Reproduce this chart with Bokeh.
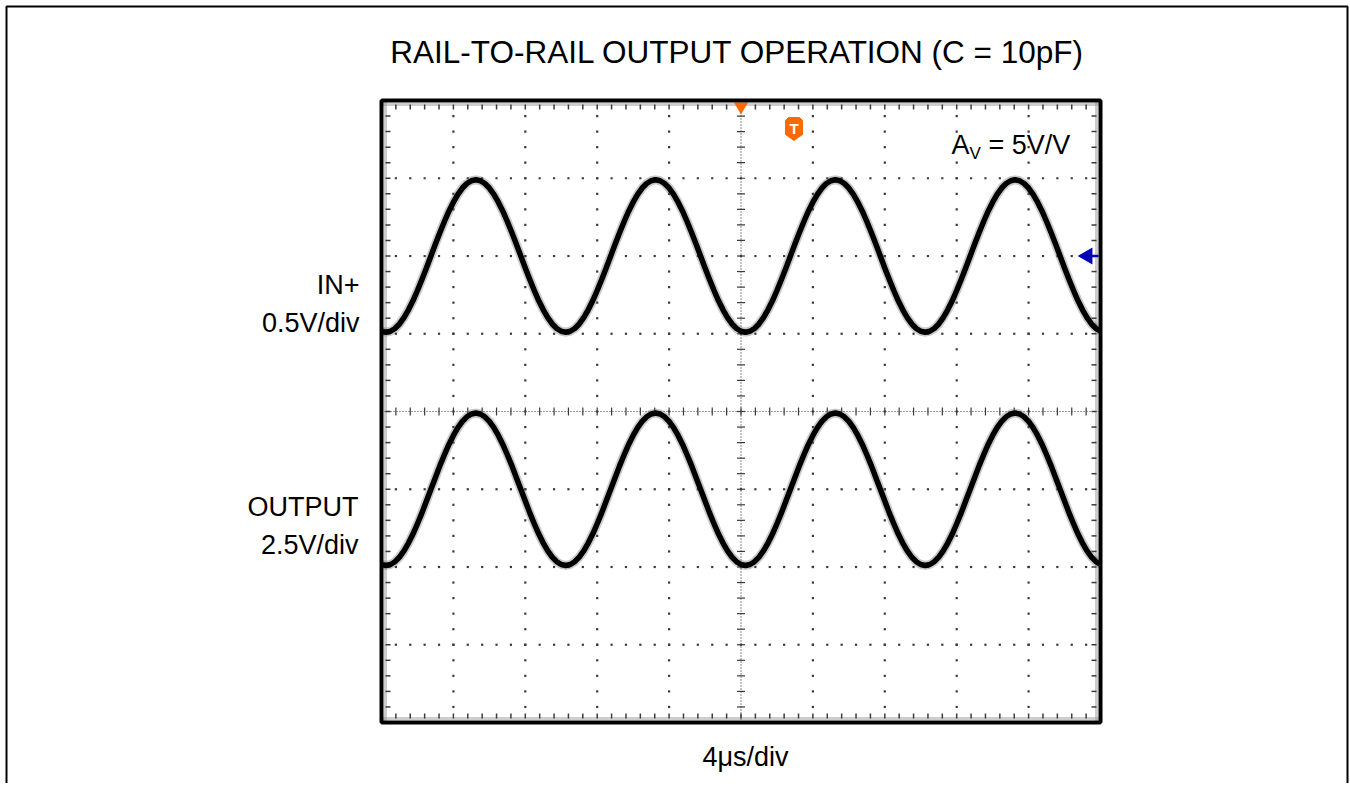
from bokeh.plotting import figure
from bokeh.models import Label, Range1d
from bokeh.embed import file_html
from bokeh.resources import INLINE

# ---------------- data ----------------
TITLE = "RAIL-TO-RAIL OUTPUT OPERATION (C = 10pF)"
CH1_NAME, CH1_SCALE_TXT = "IN+", "0.5V/div"
CH2_NAME, CH2_SCALE_TXT = "OUTPUT", "2.5V/div"
TIME_TXT = "4\u03bcs/div"
GAIN_MAIN, GAIN_SUB, GAIN_REST = "A", "V", "= 5V/V"

US_PER_DIV = 4.0          # horizontal scale
IN_V_PER_DIV = 0.5        # channel 1 scale
OUT_V_PER_DIV = 2.5       # channel 2 scale
N_XDIV, N_YDIV = 10, 8

# sample times (µs) across the 10 divisions
time_us = [i * 0.25 for i in range(161)]

# IN+ (V, relative to channel-1 marker)
in_plus_v = [
    -0.484,
    -0.490, -0.484, -0.466, -0.437, -0.396, -0.346, -0.288, -0.222, -0.151, -0.077,
    0.000, 0.077, 0.151, 0.222, 0.288, 0.346, 0.396, 0.437, 0.466, 0.484,
    0.490, 0.484, 0.466, 0.437, 0.396, 0.346, 0.288, 0.222, 0.151, 0.077,
    0.000, -0.077, -0.151, -0.222, -0.288, -0.346, -0.396, -0.437, -0.466, -0.484,
    -0.490, -0.484, -0.466, -0.437, -0.396, -0.346, -0.288, -0.222, -0.151, -0.077,
    0.000, 0.077, 0.151, 0.222, 0.288, 0.346, 0.396, 0.437, 0.466, 0.484,
    0.490, 0.484, 0.466, 0.437, 0.396, 0.346, 0.288, 0.222, 0.151, 0.077,
    0.000, -0.077, -0.151, -0.222, -0.288, -0.346, -0.396, -0.437, -0.466, -0.484,
    -0.490, -0.484, -0.466, -0.437, -0.396, -0.346, -0.288, -0.222, -0.151, -0.077,
    0.000, 0.077, 0.151, 0.222, 0.288, 0.346, 0.396, 0.437, 0.466, 0.484,
    0.490, 0.484, 0.466, 0.437, 0.396, 0.346, 0.288, 0.222, 0.151, 0.077,
    0.000, -0.077, -0.151, -0.222, -0.288, -0.346, -0.396, -0.437, -0.466, -0.484,
    -0.490, -0.484, -0.466, -0.437, -0.396, -0.346, -0.288, -0.222, -0.151, -0.077,
    0.000, 0.077, 0.151, 0.222, 0.288, 0.346, 0.396, 0.437, 0.466, 0.484,
    0.490, 0.484, 0.466, 0.437, 0.396, 0.346, 0.288, 0.222, 0.151, 0.077,
    0.000, -0.077, -0.151, -0.222, -0.288, -0.346, -0.396, -0.437, -0.466, -0.484,
]

# OUTPUT (V, 0 V at channel-2 reference)
output_v = [
    0.08,
    0.05, 0.08, 0.17, 0.32, 0.52, 0.77, 1.06, 1.39, 1.74, 2.12,
    2.50, 2.88, 3.26, 3.61, 3.94, 4.23, 4.48, 4.68, 4.83, 4.92,
    4.95, 4.92, 4.83, 4.68, 4.48, 4.23, 3.94, 3.61, 3.26, 2.88,
    2.50, 2.12, 1.74, 1.39, 1.06, 0.77, 0.52, 0.32, 0.17, 0.08,
    0.05, 0.08, 0.17, 0.32, 0.52, 0.77, 1.06, 1.39, 1.74, 2.12,
    2.50, 2.88, 3.26, 3.61, 3.94, 4.23, 4.48, 4.68, 4.83, 4.92,
    4.95, 4.92, 4.83, 4.68, 4.48, 4.23, 3.94, 3.61, 3.26, 2.88,
    2.50, 2.12, 1.74, 1.39, 1.06, 0.77, 0.52, 0.32, 0.17, 0.08,
    0.05, 0.08, 0.17, 0.32, 0.52, 0.77, 1.06, 1.39, 1.74, 2.12,
    2.50, 2.88, 3.26, 3.61, 3.94, 4.23, 4.48, 4.68, 4.83, 4.92,
    4.95, 4.92, 4.83, 4.68, 4.48, 4.23, 3.94, 3.61, 3.26, 2.88,
    2.50, 2.12, 1.74, 1.39, 1.06, 0.77, 0.52, 0.32, 0.17, 0.08,
    0.05, 0.08, 0.17, 0.32, 0.52, 0.77, 1.06, 1.39, 1.74, 2.12,
    2.50, 2.88, 3.26, 3.61, 3.94, 4.23, 4.48, 4.68, 4.83, 4.92,
    4.95, 4.92, 4.83, 4.68, 4.48, 4.23, 3.94, 3.61, 3.26, 2.88,
    2.50, 2.12, 1.74, 1.39, 1.06, 0.77, 0.52, 0.32, 0.17, 0.08,
]

CH1_POS_DIV = 6.0    # vertical position of channel-1 reference
CH2_POS_DIV = 2.0    # vertical position of channel-2 reference

# ---------------- layout ----------------
W, H = 1350, 783
FL, FR, FT, FB = 381, 1100, 100, 722     # scope graticule (page px)
XMAX = N_XDIV * US_PER_DIV
YMAX = float(N_YDIV)

FONT = "Liberation Sans, Arial, sans-serif"
ORANGE = "#ff6a00"
BLUE = "#0000b4"


def X(px):
    return (px - FL) / (FR - FL) * XMAX


def Y(py):
    return (FB - py) / (FB - FT) * YMAX


def DX(n):
    return n / (FR - FL) * XMAX


def DY(n):
    return n / (FB - FT) * YMAX


p = figure(width=W, height=H, output_backend="svg", toolbar_location=None, title=None,
           x_range=Range1d(X(0), X(W)), y_range=Range1d(Y(H), Y(0)),
           x_axis_location=None, y_axis_location=None, min_border=0)
p.grid.visible = False
p.outline_line_color = None
p.background_fill_color = "white"
p.border_fill_color = "white"

GRID = "#3a3a3a"
RULER = "#9a9a9a"
minor_x = [j * US_PER_DIV / 5 for j in range(1, N_XDIV * 5)]
minor_y = [j * 0.2 for j in range(1, N_YDIV * 5)]

# dotted major grid
gx, gy = [], []
for d in range(1, N_XDIV):
    if d == N_XDIV // 2:
        continue
    for yy in minor_y:
        gx.append(d * US_PER_DIV)
        gy.append(yy)
for d in range(1, N_YDIV):
    if d == N_YDIV // 2:
        continue
    for xx in minor_x:
        gx.append(xx)
        gy.append(float(d))
p.scatter(gx, gy, marker="square", size=2.2, color=GRID, line_width=0)

# dense ruler along inner edges
p.line([0, XMAX], [YMAX - DY(4)] * 2, line_color=RULER, line_width=3, line_dash="1 1")
p.line([0, XMAX], [DY(4)] * 2, line_color=RULER, line_width=3, line_dash="1 1")
p.line([DX(4)] * 2, [0, YMAX], line_color=RULER, line_width=3, line_dash="1 1")
p.line([XMAX - DX(4)] * 2, [0, YMAX], line_color=RULER, line_width=3, line_dash="1 1")

# edge minor ticks
tx0, ty0, tx1, ty1 = [], [], [], []
for xx in minor_x:
    tx0 += [xx, xx]
    tx1 += [xx, xx]
    ty0 += [YMAX - DY(4), DY(4)]
    ty1 += [YMAX - DY(9), DY(9)]
for yy in minor_y:
    tx0 += [DX(4), XMAX - DX(4)]
    tx1 += [DX(9), XMAX - DX(9)]
    ty0 += [yy, yy]
    ty1 += [yy, yy]
p.segment(tx0, ty0, tx1, ty1, line_color=GRID, line_width=1.5)

# center cross with ticks
cx, cy = XMAX / 2, YMAX / 2
p.line([cx, cx], [0, YMAX], line_color=GRID, line_width=1.2, line_dash="1 2")
p.line([0, XMAX], [cy, cy], line_color=GRID, line_width=1.2, line_dash="1 2")
p.segment([cx - DX(4)] * len(minor_y), minor_y, [cx + DX(4)] * len(minor_y), minor_y,
          line_color=GRID, line_width=1.2)
p.segment(minor_x, [cy - DY(4)] * len(minor_x), minor_x, [cy + DY(4)] * len(minor_x),
          line_color=GRID, line_width=1.2)

# traces
y_in = [CH1_POS_DIV + v / IN_V_PER_DIV for v in in_plus_v]
y_out = [CH2_POS_DIV + v / OUT_V_PER_DIV for v in output_v]
for ys in (y_in, y_out):
    p.line(time_us, ys, line_color="#666666", line_alpha=0.35, line_width=9, line_join="round")
    p.line(time_us, ys, line_color="black", line_width=5.5, line_join="round")

# trigger markers
p.scatter([cx], [Y(106)], marker="inverted_triangle", size=14, color=ORANGE, line_width=0)
bx0, bx1, bt, bb, btip = X(785), X(802), Y(117), Y(134), Y(140)
bxm = (bx0 + bx1) / 2
p.patch([bx0, bx0, bxm, bx1, bx1, bx1 - DX(3), bx0 + DX(3)],
        [bt - DY(3), bb, btip, bb, bt - DY(3), bt, bt],
        fill_color=ORANGE, line_color=ORANGE, line_width=1)
p.add_layout(Label(x=bxm, y=Y(127.5), text="T", text_align="center", text_baseline="middle",
                   text_color="white", text_font_style="bold", text_font_size="15px",
                   text_font=FONT))

# channel-1 marker arrow on right edge
ay = CH1_POS_DIV
p.segment([X(1089)], [ay], [X(1098)], [ay], line_color=BLUE, line_width=2.5)
p.scatter([X(1087)], [ay], marker="triangle", angle=1.5708, size=17, color=BLUE, line_width=0)

# graticule border and outer page border
p.quad(left=[0], right=[XMAX], bottom=[0], top=[YMAX], fill_color=None,
       line_color="black", line_width=4)
p.quad(left=[X(6)], right=[X(1347)], bottom=[Y(H + 30)], top=[Y(6)], fill_color=None,
       line_color="black", line_width=2)


# texts
def lab(px, py, text, size, align="left", color="black"):
    p.add_layout(Label(x=X(px), y=Y(py), text=text, text_align=align, text_baseline="middle",
                       text_font_size=f"{size}px", text_font=FONT, text_color=color))


lab(737, 51, TITLE, 31.5, "center")
lab(359, 284, CH1_NAME, 27, "right")
lab(359, 322, CH1_SCALE_TXT, 27, "right")
lab(358, 506, CH2_NAME, 27, "right")
lab(358, 544, CH2_SCALE_TXT, 27, "right")
lab(745, 756, TIME_TXT, 27, "center")
lab(951, 144, GAIN_MAIN, 27, "left")
lab(969, 153, GAIN_SUB, 17, "left")
lab(988, 144, GAIN_REST, 27, "left")

open("out.html", "w").write(file_html(p, INLINE))
